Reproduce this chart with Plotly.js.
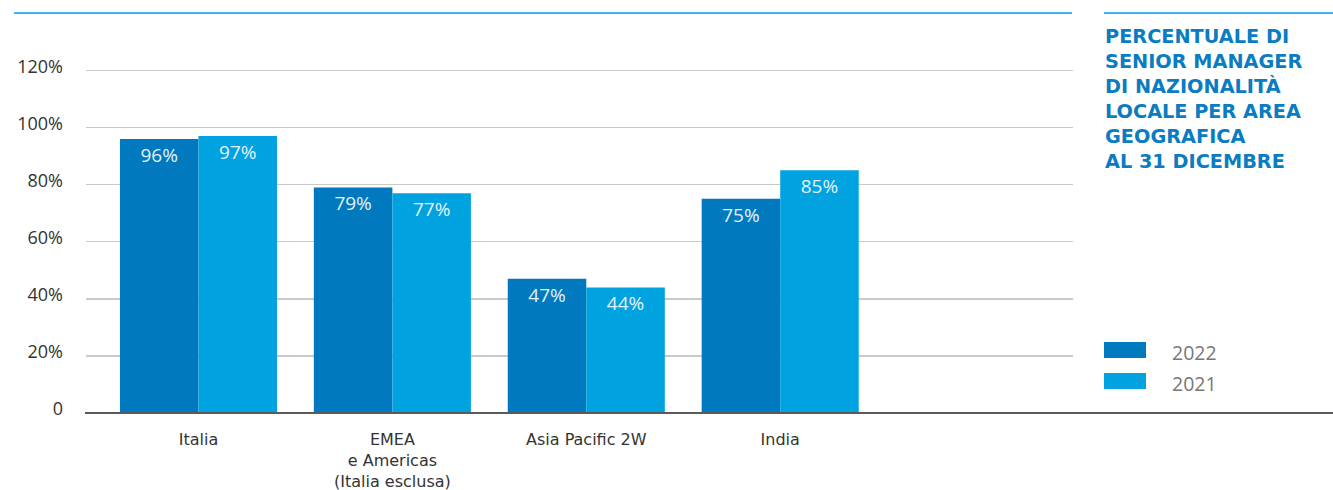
<!DOCTYPE html>
<html>
<head>
<meta charset="utf-8">
<script src="https://cdn.plot.ly/plotly-3.0.1.min.js"></script>
<style>
html,body{margin:0;padding:0;background:#fff;}
#chart{width:1333px;height:490px;}
</style>
</head>
<body>
<div id="chart"></div>
<script>
// ---- data ----
const categories = ["Italia", "EMEA<br>e Americas<br>(Italia esclusa)", "Asia Pacific 2W", "India"];
const seriesNames = ["2022", "2021"];
const values2022 = [96, 79, 47, 75];
const values2021 = [97, 77, 44, 85];
const yTickValues = [0, 20, 40, 60, 80, 100, 120];
const yTickLabels = ["0", "20%", "40%", "60%", "80%", "100%", "120%"];
const titleText = "PERCENTUALE DI<br>SENIOR MANAGER<br>DI NAZIONALITÀ<br>LOCALE PER AREA<br>GEOGRAFICA<br>AL 31 DICEMBRE";

// ---- layout geometry ----
const W = 1333, H = 490;
const M = {l: 86, r: 260, t: 13, b: 77};
const PW = W - M.l - M.r, PH = H - M.t - M.b;
const px = x => (x - M.l) / PW;          // pixel x -> paper x
const py = y => (H - M.b - y) / PH;      // pixel y -> paper y

const colors = ["#0079be", "#00a3e0"];
const FONT = "Open Sans, Lato, sans-serif";
const WIDE_FONT = "DejaVu Sans, Open Sans, sans-serif";

const pctText = arr => arr.map(v => v + "%");

function barTrace(name, vals, color) {
  return {
    type: "bar",
    name: name,
    x: categories,
    y: vals,
    text: pctText(vals),
    textposition: "inside",
    insidetextanchor: "end",
    textangle: 0,
    constraintext: "none",
    textfont: {family: FONT, size: 19, color: "#e3f2fb"},
    marker: {color: color, line: {width: 0}},
    hoverinfo: "x+y",
    showlegend: false
  };
}

const data = [
  barTrace(seriesNames[0], values2022, colors[0]),
  barTrace(seriesNames[1], values2021, colors[1])
];

const shapes = [
  // top decorative rules
  {type: "line", xref: "paper", yref: "paper", x0: px(14), x1: px(1072), y0: 1, y1: 1,
   line: {color: "#3fb6e8", width: 2}},
  {type: "line", xref: "paper", yref: "paper", x0: px(1104), x1: px(1333), y0: 1, y1: 1,
   line: {color: "#3fb6e8", width: 2}},
  // baseline
  {type: "line", xref: "paper", yref: "paper", x0: px(85), x1: px(1333), y0: 0, y1: 0,
   line: {color: "#5a5a5a", width: 2}, layer: "above"},
  // legend swatches
  {type: "rect", xref: "paper", yref: "paper", x0: px(1104), x1: px(1146), y0: py(358), y1: py(342),
   fillcolor: colors[0], line: {width: 0}},
  {type: "rect", xref: "paper", yref: "paper", x0: px(1104), x1: px(1146), y0: py(389), y1: py(373),
   fillcolor: colors[1], line: {width: 0}}
];

const annotations = [
  {xref: "paper", yref: "paper", x: px(1170), y: py(352), xanchor: "left", yanchor: "middle",
   text: seriesNames[0], showarrow: false, font: {family: FONT, size: 19.5, color: "#777777"}},
  {xref: "paper", yref: "paper", x: px(1170), y: py(383), xanchor: "left", yanchor: "middle",
   text: seriesNames[1], showarrow: false, font: {family: FONT, size: 19.5, color: "#777777"}},
  {xref: "paper", yref: "paper", x: px(1103), y: py(23), xanchor: "left", yanchor: "top",
   align: "left", text: "<b>" + titleText + "</b>", showarrow: false,
   font: {family: WIDE_FONT, size: 19.3, color: "#0a7cc1"}}
];

const layout = {
  width: W, height: H,
  margin: M,
  paper_bgcolor: "#ffffff",
  plot_bgcolor: "#ffffff",
  font: {family: FONT, color: "#333333"},
  barmode: "group",
  bargap: 0.19,
  bargroupgap: 0,
  xaxis: {
    type: "category",
    range: [-0.58, 4.51],
    showgrid: false,
    showline: false,
    zeroline: false,
    ticks: "",
    ticklabelstandoff: 15,
    tickfont: {family: WIDE_FONT, size: 16, color: "#333333"},
    fixedrange: true
  },
  yaxis: {
    range: [0, 140.1],
    tickvals: yTickValues,
    ticktext: yTickLabels,
    showgrid: true,
    gridcolor: "#cacaca",
    gridwidth: 1.5,
    zeroline: false,
    showline: false,
    ticks: "",
    ticklabelstandoff: 22,
    ticklabelshift: -4,
    tickfont: {family: FONT, size: 18, color: "#333333"},
    fixedrange: true
  },
  shapes: shapes,
  annotations: annotations,
  showlegend: false
};

Plotly.newPlot("chart", data, layout, {displayModeBar: false, staticPlot: true});
</script>
</body>
</html>
